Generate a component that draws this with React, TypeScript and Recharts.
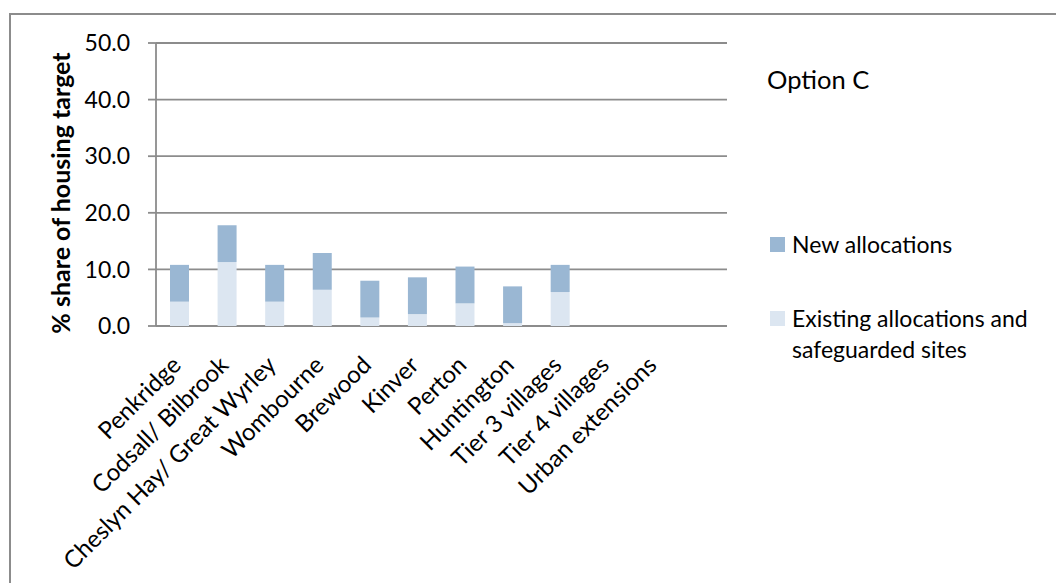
import React from 'react';
import { BarChart, Bar, XAxis, YAxis, CartesianGrid } from 'recharts';

// Settlement categories along the x axis (last slot is an empty spacer column)
const categories = [
  'Penkridge',
  'Codsall/ Bilbrook',
  'Cheslyn Hay/ Great Wyrley',
  'Wombourne',
  'Brewood',
  'Kinver',
  'Perton',
  'Huntington',
  'Tier 3 villages',
  'Tier 4 villages',
  'Urban extensions',
  '',
];

// % share of housing target
const existingAllocations = [4.3, 11.3, 4.3, 6.4, 1.5, 2.1, 4.0, 0.5, 6.0, 0, 0, 0];
const newAllocations = [6.5, 6.5, 6.5, 6.5, 6.5, 6.5, 6.5, 6.5, 4.8, 0, 0, 0];

const yTicks = [0, 10, 20, 30, 40, 50];
const boundaryTicks = categories.map((_, i) => i).concat([categories.length]);

const data = categories.map((name, i) => ({
  name,
  existing: existingAllocations[i],
  fresh: newAllocations[i],
}));

const FONT = 'Lato, "Open Sans", sans-serif';
const AXIS = '#8c8c8c';
const DARK = '#9ab7d3';
const LIGHT = '#dce6f1';

const CategoryTick = (props: any) => {
  const { x, y, payload } = props;
  const ax = x - 11;
  const ay = y + 19;
  return (
    <text
      x={ax}
      y={ay}
      transform={`rotate(-45, ${ax}, ${ay})`}
      textAnchor="end"
      dominantBaseline="hanging"
      fontFamily={FONT}
      fontSize={24}
      fill="#000"
    >
      {payload.value}
    </text>
  );
};

const legendItems = [
  { color: DARK, lines: ['New allocations'] },
  { color: LIGHT, lines: ['Existing allocations and', 'safeguarded sites'] },
];

const LegendBox = () => (
  <div
    style={{
      position: 'absolute',
      left: 770,
      top: 229,
      width: 290,
      fontFamily: FONT,
      fontSize: 23,
      color: '#000',
      lineHeight: '31px',
    }}
  >
    {legendItems.map((it, i) => (
      <div key={i} style={{ display: 'flex', alignItems: 'flex-start', marginBottom: i === 0 ? 43 : 0 }}>
        <div style={{ width: 15, height: 15, background: it.color, marginTop: 8, marginRight: 7, flex: 'none' }} />
        <div>
          {it.lines.map((l, j) => (
            <div key={j}>{l}</div>
          ))}
        </div>
      </div>
    ))}
  </div>
);

export default function App() {
  return (
    <div style={{ position: 'absolute', left: 0, top: 0, width: 1056, height: 583, background: '#fff', overflow: 'hidden' }}>
      <div
        style={{
          position: 'absolute',
          left: 9,
          top: 13,
          width: 1100,
          height: 700,
          borderLeft: `2px solid ${AXIS}`,
          borderTop: `2px solid ${AXIS}`,
        }}
      />
      <div
        style={{
          position: 'absolute',
          left: 767,
          top: 64,
          fontFamily: FONT,
          fontSize: 25.5,
          color: '#000',
        }}
      >
        Option C
      </div>
      <LegendBox />
      <div style={{ position: 'absolute', left: 0, top: 0 }}>
        <BarChart
          width={1056}
          height={583}
          data={data}
          margin={{ top: 43, right: 329, left: 0, bottom: 0 }}
          barSize={19}
        >
          <CartesianGrid vertical={false} stroke={AXIS} strokeWidth={1.8} />
          <XAxis
            xAxisId="bounds"
            type="number"
            domain={[0, categories.length]}
            ticks={boundaryTicks}
            tick={false}
            tickSize={9}
            height={0}
            stroke={AXIS}
            strokeWidth={1.8}
            allowDataOverflow
          />
          <XAxis
            xAxisId="cat"
            dataKey="name"
            type="category"
            interval={0}
            axisLine={false}
            tickLine={false}
            height={257}
            tick={<CategoryTick />}
          />
          <YAxis
            domain={[0, 50]}
            ticks={yTicks}
            width={156}
            tickSize={8}
            tickMargin={18}
            stroke={AXIS}
            strokeWidth={1.8}
            tickFormatter={(v: number) => v.toFixed(1)}
            tick={{ fill: '#000', fontFamily: FONT, fontSize: 23 }}
            label={{
              content: () => (
                <text
                  transform="translate(70, 193) rotate(-90)"
                  textAnchor="middle"
                  fontFamily={FONT}
                  fontWeight="bold"
                  fontSize={25}
                  fill="#000"
                >
                  % share of housing target
                </text>
              ),
            }}
          />
          <Bar xAxisId="cat" dataKey="existing" stackId="s" fill={LIGHT} isAnimationActive={false} />
          <Bar xAxisId="cat" dataKey="fresh" stackId="s" fill={DARK} isAnimationActive={false} />
        </BarChart>
      </div>
    </div>
  );
}
